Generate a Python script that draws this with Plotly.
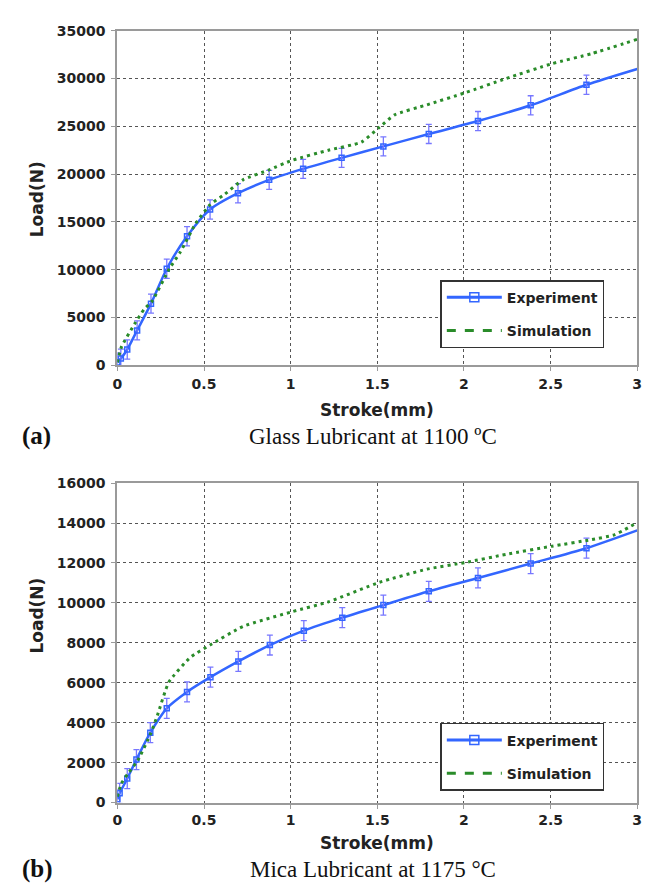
import plotly.graph_objects as go

W, H = 650, 886

# ---------------- Data: panel (a) Glass lubricant at 1100 C ----------------
a_exp_stroke = [0.0, 0.02, 0.057, 0.114, 0.194, 0.285, 0.402, 0.535, 0.696,
                0.876, 1.072, 1.294, 1.535, 1.797, 2.081, 2.385, 2.707]
a_exp_load = [300, 700, 1650, 3650, 6450, 10100, 13500, 16300, 18000,
              19400, 20550, 21700, 22900, 24200, 25550, 27200, 29350]
a_exp_err = [1000, 1000, 1000, 1000, 1000, 1000, 1000, 1000, 1000,
             1000, 1000, 1000, 1000, 1000, 1000, 1000, 1000]
a_exp_end_stroke = [3.0]
a_exp_end_load = [31000]

a_sim_stroke = [0.0, 0.023, 0.1, 0.155, 0.2, 0.3, 0.364, 0.45, 0.535, 0.62,
                0.725, 0.876, 1.009, 1.218, 1.408, 1.512, 1.6, 1.787, 2.005,
                2.243, 2.508, 2.736, 3.0]
a_sim_load = [300, 1900, 4340, 5880, 6700, 10100, 11870, 14780, 16800, 17900,
              19400, 20450, 21450, 22500, 23350, 24900, 26200, 27250, 28500,
              30000, 31550, 32600, 34100]

# ---------------- Data: panel (b) Mica lubricant at 1175 C ----------------
b_exp_stroke = [0.0, 0.013, 0.057, 0.11, 0.19, 0.285, 0.402, 0.537, 0.698,
                0.88, 1.076, 1.298, 1.535, 1.797, 2.081, 2.385, 2.707]
b_exp_load = [160, 460, 1200, 2150, 3500, 4720, 5540, 6280, 7070,
              7890, 8610, 9260, 9890, 10580, 11250, 11970, 12740]
b_exp_err = [500, 500, 500, 500, 500, 500, 500, 500, 500,
             500, 500, 500, 500, 500, 500, 500, 500]
b_exp_end_stroke = [3.0]
b_exp_end_load = [13630]

b_sim_stroke = [0.0, 0.023, 0.06, 0.117, 0.194, 0.232, 0.297, 0.421, 0.535,
                0.725, 1.009, 1.218, 1.512, 1.787, 2.005, 2.243, 2.508, 2.736,
                2.868, 3.0]
b_sim_load = [300, 950, 1440, 2100, 3490, 4390, 6030, 7270, 7890,
              8820, 9560, 10050, 11030, 11690, 12020, 12430, 12840, 13170,
              13410, 14020]

x_ticks = [0, 0.5, 1, 1.5, 2, 2.5, 3]
a_y_ticks = [0, 5000, 10000, 15000, 20000, 25000, 30000, 35000]
b_y_ticks = [0, 2000, 4000, 6000, 8000, 10000, 12000, 14000, 16000]

# ---------------- Styles ----------------
EXP_COLOR = "#3366ff"
ERR_COLOR = "#7777ff"
SIM_COLOR = "#2a8c2a"
SANS = "DejaVu Sans"
SERIF = "Liberation Serif"


def px_x(x):
    return x / W


def px_y(y):
    return 1 - y / H


fig = go.Figure()


def add_panel(xa, ya, legend, exp_x, exp_y, exp_e, end_x, end_y, sim_x, sim_y):
    # experiment curve (smooth line through the measured points)
    fig.add_trace(go.Scatter(
        x=exp_x + end_x, y=exp_y + end_y, mode="lines",
        line=dict(color=EXP_COLOR, width=2.5, shape="spline", smoothing=0.7),
        xaxis=xa, yaxis=ya, showlegend=False, hoverinfo="skip"))
    # markers with error bars
    fig.add_trace(go.Scatter(
        x=exp_x, y=exp_y, mode="markers",
        marker=dict(symbol="square-open", size=5, color=EXP_COLOR,
                    line=dict(width=1.5, color=EXP_COLOR)),
        error_y=dict(type="data", array=exp_e, visible=True,
                     color=ERR_COLOR, thickness=1.3, width=3),
        xaxis=xa, yaxis=ya, showlegend=False))
    # simulation (dotted on the chart)
    fig.add_trace(go.Scatter(
        x=sim_x, y=sim_y, mode="lines", name="Simulation",
        line=dict(color=SIM_COLOR, width=3, dash="3px,4px",
                  shape="spline", smoothing=0.5),
        xaxis=xa, yaxis=ya, showlegend=False))
    # legend entries
    fig.add_trace(go.Scatter(
        x=[None], y=[None], mode="lines+markers", name="Experiment",
        line=dict(color=EXP_COLOR, width=3),
        marker=dict(symbol="square-open", size=9, color=EXP_COLOR,
                    line=dict(width=1.5, color=EXP_COLOR)),
        xaxis=xa, yaxis=ya, legend=legend, legendgroup=legend + "exp",
        legendrank=1))
    fig.add_trace(go.Scatter(
        x=[None], y=[None], mode="lines", name="Simulation",
        line=dict(color=SIM_COLOR, width=3, dash="dash"),
        xaxis=xa, yaxis=ya, legend=legend, legendgroup=legend + "sim",
        legendrank=2))


add_panel("x", "y", "legend", a_exp_stroke, a_exp_load, a_exp_err,
          a_exp_end_stroke, a_exp_end_load, a_sim_stroke, a_sim_load)
add_panel("x2", "y2", "legend2", b_exp_stroke, b_exp_load, b_exp_err,
          b_exp_end_stroke, b_exp_end_load, b_sim_stroke, b_sim_load)

PLOT_L, PLOT_R = 106, 634
A_TOP, A_BOT = 15, 355.7
B_TOP, B_BOT = 475.7, 801

axis_common = dict(
    showline=True, linecolor="#9a9a9a", linewidth=2, mirror=True,
    showgrid=True, gridcolor="#555555", gridwidth=1, griddash="dot",
    zeroline=False, ticks="outside", ticklen=4, tickcolor="#9a9a9a",
    tickfont=dict(family=SANS, size=14, color="#222222", weight="bold"),
)

fig.update_layout(
    width=W, height=H,
    margin=dict(l=0, r=0, t=0, b=0),
    paper_bgcolor="white", plot_bgcolor="white",
    xaxis=dict(domain=[px_x(PLOT_L), px_x(PLOT_R)], anchor="y",
               range=[0, 3], tickvals=x_ticks, ticklabelstandoff=1,
               **axis_common),
    yaxis=dict(domain=[px_y(A_BOT), px_y(A_TOP)], anchor="x",
               range=[0, 35000], tickvals=a_y_ticks, tickformat="d",
               ticklabelstandoff=3, **axis_common),
    xaxis2=dict(domain=[px_x(PLOT_L), px_x(PLOT_R)], anchor="y2",
                range=[0, 3], tickvals=x_ticks, ticklabelstandoff=0,
                **axis_common),
    yaxis2=dict(domain=[px_y(B_BOT), px_y(B_TOP)], anchor="x2",
                range=[0, 16000], tickvals=b_y_ticks, tickformat="d",
                ticklabelstandoff=3, **axis_common),
    legend=dict(x=px_x(434), y=px_y(269), xanchor="left", yanchor="top",
                bgcolor="white", bordercolor="#333333", borderwidth=1.5,
                font=dict(family=SANS, size=14, color="#222222", weight="bold"),
                itemwidth=55, tracegroupgap=12, traceorder="grouped"),
    legend2=dict(x=px_x(434), y=px_y(720), xanchor="left", yanchor="top",
                 bgcolor="white", bordercolor="#333333", borderwidth=1.5,
                 font=dict(family=SANS, size=14, color="#222222", weight="bold"),
                 itemwidth=55, tracegroupgap=12, traceorder="grouped"),
)

annos = []
title_font = dict(family=SANS, size=17, color="#222222", weight="bold")
center_x = px_x((PLOT_L + PLOT_R) / 2)
for y_stroke, y_load in [(401, 187), (842, 611)]:
    annos.append(dict(text="Stroke(mm)", x=center_x, y=px_y(y_stroke),
                      xref="paper", yref="paper", showarrow=False,
                      xanchor="center", yanchor="middle", font=title_font))
    annos.append(dict(text="Load(N)", x=px_x(24), y=px_y(y_load),
                      xref="paper", yref="paper", showarrow=False,
                      textangle=-90, xanchor="center", yanchor="middle",
                      font=title_font))

for label, caption, yc in [("(a)", "Glass Lubricant at 1100 ºC", 428),
                           ("(b)", "Mica Lubricant at 1175 °C", 869)]:
    annos.append(dict(text=label, x=px_x(7), y=px_y(yc), xref="paper",
                      yref="paper", showarrow=False, xanchor="left",
                      yanchor="middle",
                      font=dict(family=SERIF, size=25, color="#111111",
                                weight="bold")))
    annos.append(dict(text=caption, x=px_x(366), y=px_y(yc), xref="paper",
                      yref="paper", showarrow=False, xanchor="center",
                      yanchor="middle",
                      font=dict(family=SERIF, size=23, color="#111111")))

fig.update_layout(annotations=annos)

fig.write_html("out.html")
